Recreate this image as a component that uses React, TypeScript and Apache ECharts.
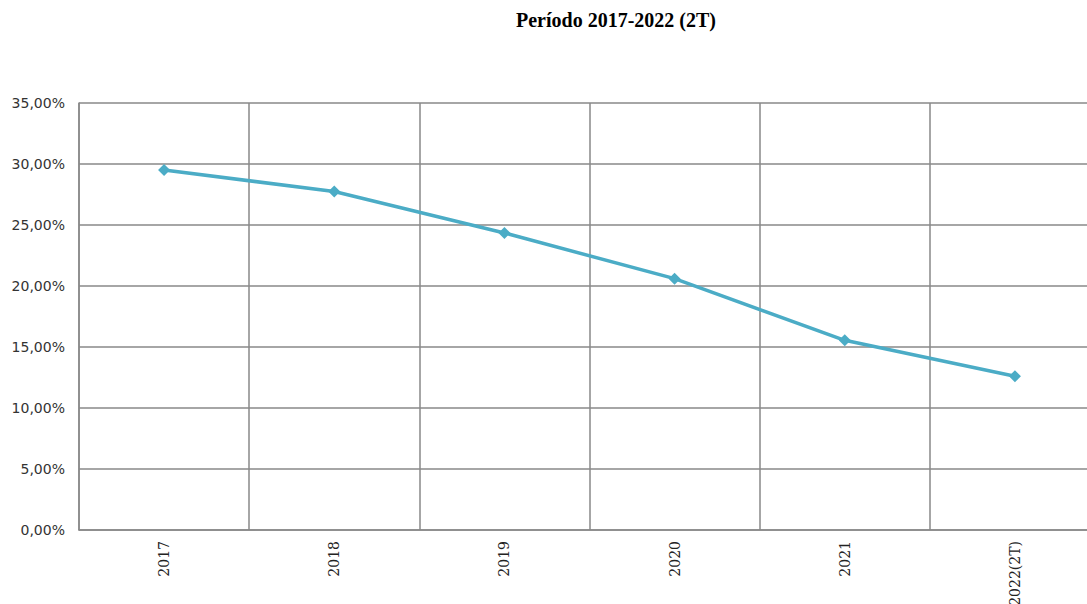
import React, { useEffect, useRef } from "react";
import * as echarts from "echarts";

const categories = ["2017", "2018", "2019", "2020", "2021", "2022(2T)"];
const values = [29.5, 27.75, 24.35, 20.6, 15.55, 12.6];
const titleText = "Período 2017-2022 (2T)";

export default function App() {
  const ref = useRef<HTMLDivElement>(null);
  useEffect(() => {
    const chart = echarts.init(ref.current!, null, { renderer: "svg" });
    chart.setOption({
      animation: false,
      backgroundColor: "#ffffff",
      graphic: [
        {
          type: "text",
          x: 616,
          y: 20,
          style: {
            text: titleText,
            font: 'bold 20px "Liberation Serif"',
            fill: "#000",
            textAlign: "center",
            textVerticalAlign: "middle",
          },
        },
      ],
      grid: {
        left: 79,
        right: 10,
        top: 103,
        bottom: 74,
        containLabel: false,
        outerBoundsMode: "none",
      },
      xAxis: {
        type: "category",
        data: categories,
        boundaryGap: true,
        axisLine: { show: true, lineStyle: { color: "#888", width: 1.5 } },
        axisTick: { show: false },
        splitLine: { show: true, lineStyle: { color: "#888", width: 1.5 } },
        axisLabel: {
          rotate: 90,
          margin: 11,
          fontFamily: "DejaVu Serif",
          fontSize: 14,
          color: "#222",
          interval: 0,
        },
      },
      yAxis: {
        type: "value",
        min: 0,
        max: 35,
        interval: 5,
        axisLine: { show: true, lineStyle: { color: "#888", width: 1.5 } },
        axisTick: { show: false },
        splitLine: { show: true, lineStyle: { color: "#888", width: 1.5 } },
        axisLabel: {
          margin: 14,
          fontFamily: "DejaVu Sans",
          fontSize: 14,
          color: "#333",
          formatter: (v: number) => v.toFixed(2).replace(".", ",") + "%",
        },
      },
      series: [
        {
          type: "line",
          data: values,
          symbol: "diamond",
          symbolSize: 12,
          lineStyle: { color: "#4BACC6", width: 3.5 },
          itemStyle: { color: "#4BACC6" },
        },
      ],
    });
    return () => chart.dispose();
  }, []);
  return (
    <div
      style={{
        position: "fixed",
        left: 0,
        top: 0,
        width: 1087,
        height: 604,
        overflow: "hidden",
        background: "#fff",
      }}
    >
      <div ref={ref} style={{ width: 1110, height: 604 }} />
    </div>
  );
}
